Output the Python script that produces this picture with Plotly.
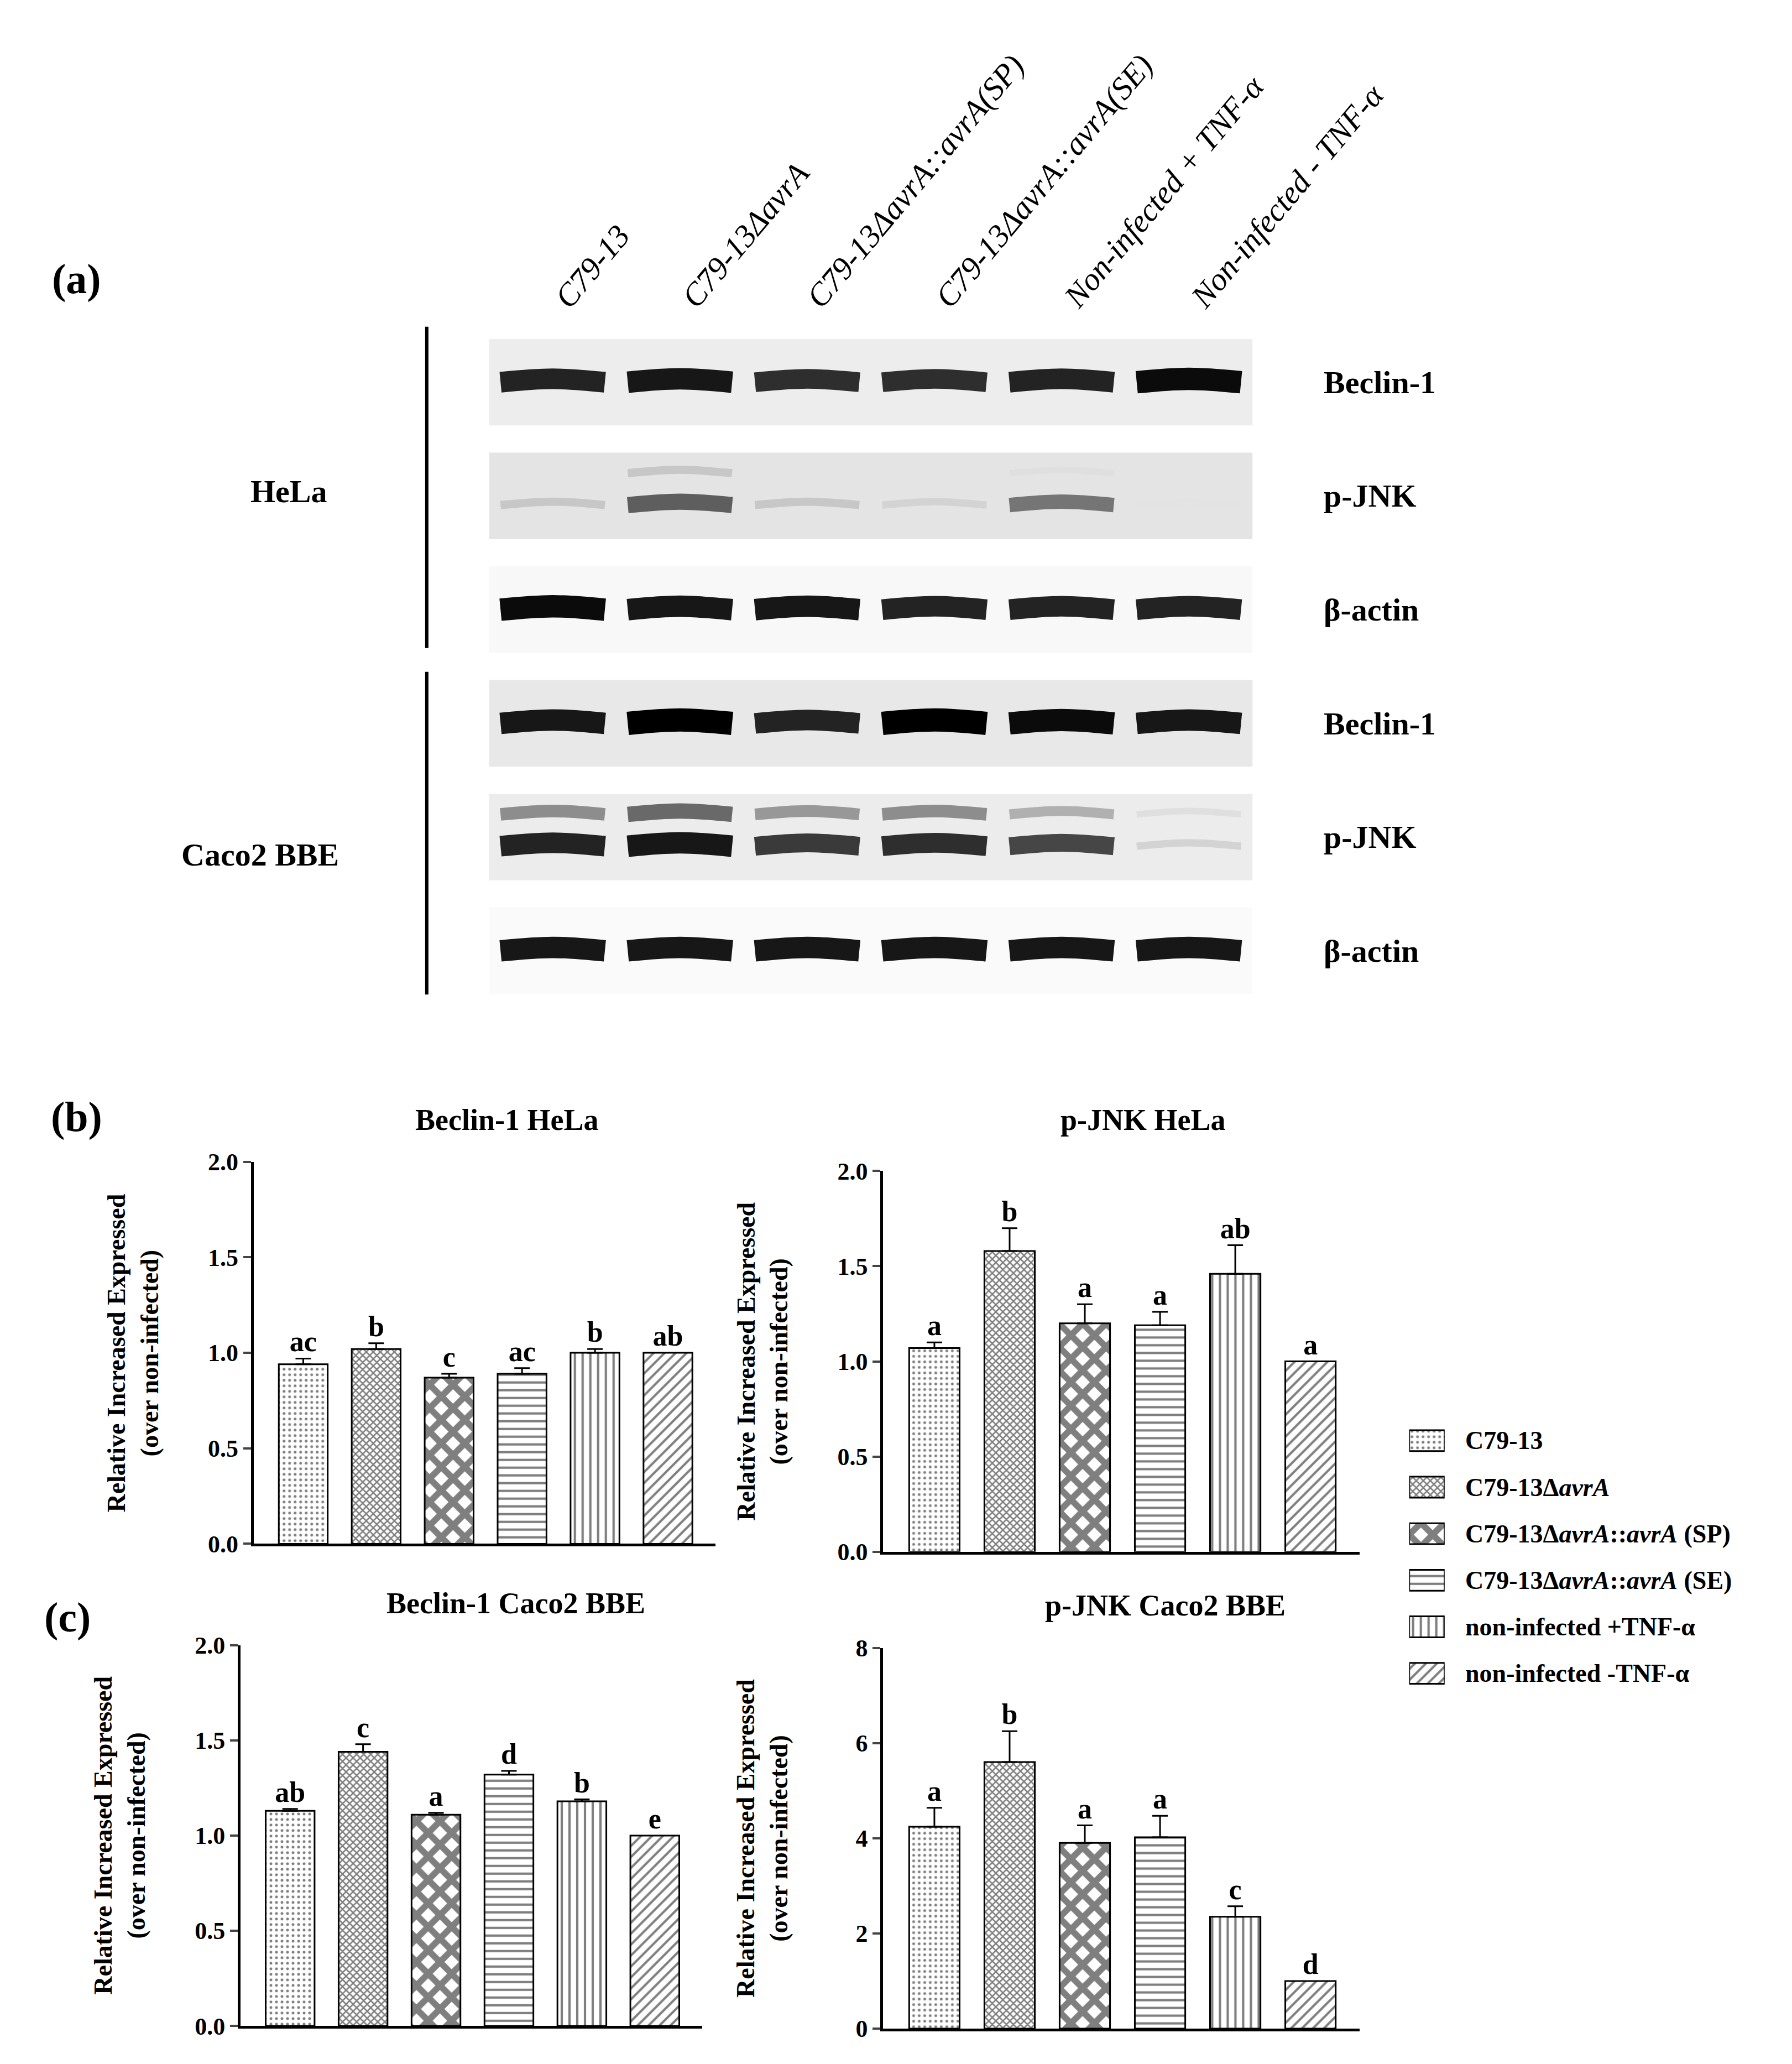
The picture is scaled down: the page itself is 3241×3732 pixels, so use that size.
import plotly.graph_objects as go

W, H = 3241, 3732
SX, SY = 1350.0, 1555.0  # reference layout units

groups = ["C79-13", "C79-13Δ<i>avrA</i>", "C79-13Δ<i>avrA</i>::<i>avrA</i> (SP)",
          "C79-13Δ<i>avrA</i>::<i>avrA</i> (SE)", "non-infected +TNF-α", "non-infected -TNF-α"]
lane_labels = ["C79-13", "C79-13Δ<i>avrA</i>", "C79-13Δ<i>avrA</i>::<i>avrA</i>(SP)",
               "C79-13Δ<i>avrA</i>::<i>avrA</i>(SE)", "Non-infected + TNF-α", "Non-infected - TNF-α"]
patterns = [".", "x", "x", "-", "|", "/"]
pat_size = [10, 9, 30, 14, 14, 14]
pat_solid = [0.2, 0.5, 0.62, 0.3, 0.3, 0.3]

beclin_hela = [0.94, 1.02, 0.87, 0.89, 1.00, 1.00]
beclin_hela_err = [0.03, 0.03, 0.02, 0.03, 0.02, 0.0]
beclin_hela_sig = ["ac", "b", "c", "ac", "b", "ab"]

pjnk_hela = [1.07, 1.58, 1.20, 1.19, 1.46, 1.00]
pjnk_hela_err = [0.03, 0.12, 0.10, 0.07, 0.15, 0.0]
pjnk_hela_sig = ["a", "b", "a", "a", "ab", "a"]

beclin_caco = [1.13, 1.44, 1.11, 1.32, 1.18, 1.00]
beclin_caco_err = [0.01, 0.04, 0.01, 0.02, 0.01, 0.0]
beclin_caco_sig = ["ab", "c", "a", "d", "b", "e"]

pjnk_caco = [4.24, 5.60, 3.90, 4.02, 2.35, 1.00]
pjnk_caco_err = [0.40, 0.65, 0.37, 0.45, 0.22, 0.0]
pjnk_caco_sig = ["a", "b", "a", "a", "c", "d"]

# western blot band intensities (0-1), per lane
blot_rows = ["Beclin-1", "p-JNK", "β-actin", "Beclin-1", "p-JNK", "β-actin"]
blot_bg = ["#ededed", "#e4e4e4", "#f8f8f8", "#e8e8e8", "#ececec", "#fafafa"]
band_main = [
    [0.85, 0.9, 0.8, 0.8, 0.85, 0.95],
    [0.15, 0.6, 0.15, 0.1, 0.5, 0.03],
    [0.95, 0.9, 0.9, 0.85, 0.85, 0.85],
    [0.9, 1.0, 0.85, 1.0, 0.95, 0.9],
    [0.85, 0.9, 0.75, 0.8, 0.7, 0.1],
    [0.9, 0.9, 0.9, 0.9, 0.9, 0.9],
]
band_upper = [None, [0.0, 0.15, 0.0, 0.0, 0.05, 0.0], None, None,
              [0.4, 0.55, 0.35, 0.4, 0.25, 0.05], None]

FONT = "Liberation Serif"
fig = go.Figure()


def fx(x):
    return x / 1.012 / SX


def fy(y):
    y = y - (13.5 - 0.0056 * y)
    return (SY - y) / SY


def px(x0, x1):
    return [fx(x0), fx(x1)]


def py(top, bottom):
    return [fy(bottom), fy(top)]


def bar_marker(i):
    return dict(color="white", line=dict(color="black", width=3),
                pattern=dict(shape=patterns[i], fgcolor="black", bgcolor="white",
                             size=pat_size[i], solidity=pat_solid[i]))


charts = [
    ("", beclin_hela, beclin_hela_err, beclin_hela_sig, px(190, 542), py(882, 1172), 2.0, 0.5, "Beclin-1 HeLa", 383, 850),
    ("2", pjnk_hela, pjnk_hela_err, pjnk_hela_sig, px(670, 1033), py(889, 1178), 2.0, 0.5, "p-JNK HeLa", 868, 850),
    ("3", beclin_caco, beclin_caco_err, beclin_caco_sig, px(180, 532), py(1249, 1538), 2.0, 0.5, "Beclin-1 Caco2 BBE", 390, 1217),
    ("4", pjnk_caco, pjnk_caco_err, pjnk_caco_sig, px(670, 1033), py(1251, 1540), 8, 2, "p-JNK Caco2 BBE", 885, 1219),
]

ann = []
for k, (ax, vals, errs, sig, xd, yd, ymax, dt, title, tx, ty) in enumerate(charts):
    for i in range(6):
        fig.add_trace(go.Bar(
            x=[i], y=[vals[i]], xaxis="x" + ax, yaxis="y" + ax, width=0.67,
            showlegend=False, marker=bar_marker(i),
            error_y=dict(type="data", array=[errs[i]], arrayminus=[0], symmetric=False,
                         color="black", thickness=3, width=14, visible=errs[i] > 0),
        ))
    fig.add_trace(go.Scatter(
        x=list(range(6)), y=[v + e for v, e in zip(vals, errs)], xaxis="x" + ax, yaxis="y" + ax,
        mode="text", text=sig, textposition="top center",
        textfont=dict(family=FONT, size=52, color="black", weight="bold"), showlegend=False, hoverinfo="skip"))
    fig.layout["xaxis" + ax] = dict(domain=xd, anchor="y" + ax, range=[-0.68, 5.65], showticklabels=False,
                                     ticks="", showgrid=False, zeroline=False, showline=True,
                                     linecolor="black", linewidth=5)
    fig.layout["yaxis" + ax] = dict(domain=yd, anchor="x" + ax, range=[0, ymax], dtick=dt,
                                     tickformat=".1f" if ymax == 2.0 else "d", ticks="outside",
                                     ticklen=14, tickwidth=4, showgrid=False, zeroline=False,
                                     showline=True, linecolor="black", linewidth=5,
                                     tickfont=dict(family=FONT, size=44, color="black", weight="bold"))
    ann.append(dict(text="<b>%s</b>" % title, x=fx(tx), y=fy(ty), xref="paper", yref="paper",
                    xanchor="center", yanchor="middle",
                    showarrow=False, font=dict(family=FONT, size=54, color="black")))
    ann.append(dict(text="<b>Relative Increased Expressed<br>(over non-infected)</b>",
                    x=xd[0] - 92 / 1.012 / SX, y=(yd[0] + yd[1]) / 2, xref="paper", yref="paper",
                    xanchor="center", yanchor="middle",
                    textangle=-90, showarrow=False, font=dict(family=FONT, size=46, color="black")))

# legend drawn as small horizontal pattern bars
for i in range(6):
    fig.add_trace(go.Bar(x=[1], y=[i], orientation="h", xaxis="x6", yaxis="y6", width=0.45,
                         marker=bar_marker(i), showlegend=False, hoverinfo="skip"))
    ann.append(dict(text="<b>%s</b>" % groups[i], x=fx(1113), y=i, xref="paper", yref="y6",
                    xanchor="left", yanchor="middle", showarrow=False,
                    font=dict(family=FONT, size=46, color="black")))
fig.layout["xaxis6"] = dict(domain=px(1071, 1098), anchor="y6", range=[0, 1], visible=False)
fig.layout["yaxis6"] = dict(domain=py(1076, 1288), anchor="x6", range=[5.5, -0.5], visible=False)

# blot panel
shapes = []
for r in range(6):
    shapes.append(dict(type="rect", xref="x5", yref="y5", x0=-0.52, x1=5.52, y0=r - 0.38, y1=r + 0.38,
                       fillcolor=blot_bg[r], line=dict(width=0), layer="below"))
    bands = [(band_main[r], 0.08 if r in (1, 4) else 0.0)]
    if band_upper[r]:
        bands.append((band_upper[r], -0.2))
    for inten, off in bands:
        for lane in range(6):
            v = inten[lane]
            if v <= 0:
                continue
            g = int(235 * (1 - v))
            fig.add_trace(go.Scatter(
                x=[lane - 0.41, lane, lane + 0.41], y=[r + off, r + off - 0.03, r + off],
                xaxis="x5", yaxis="y5", mode="lines", line=dict(color="rgb(%d,%d,%d)" % (g, g, g),
                                                              width=10 + 32 * v, shape="spline"),
                showlegend=False, hoverinfo="skip"))
    ann.append(dict(text="<b>%s</b>" % blot_rows[r], x=fx(1005), y=r, xref="paper", yref="y5",
                    xanchor="left", yanchor="middle", showarrow=False,
                    font=dict(family=FONT, size=58, color="black")))

lane_x = [418, 515, 610, 708, 806, 903]
for lane, lab in enumerate(lane_labels):
    ann.append(dict(text="<i>%s</i>" % lab, x=fx(lane_x[lane] - 5), y=fy(240),
                    xref="paper", yref="paper", xanchor="left", yanchor="bottom", textangle=-50,
                    showarrow=False, font=dict(family=FONT, size=58, color="black")))

fig.layout["xaxis5"] = dict(domain=px(369.5, 951.5), anchor="y5", range=[-0.5, 5.5], visible=False)
fig.layout["yaxis5"] = dict(domain=py(247, 765), anchor="x5", range=[5.5, -0.5], visible=False)

for y0, y1 in [(248, 492), (510, 755)]:
    shapes.append(dict(type="line", xref="paper", yref="paper", x0=fx(322), x1=fx(322),
                       y0=fy(y0), y1=fy(y1), line=dict(color="black", width=6)))

for t, x, y, s in [("HeLa", 217, 373, 58), ("Caco2 BBE", 195, 649, 58),
                   ("(a)", 55, 212, 76), ("(b)", 55, 848, 76), ("(c)", 48, 1228, 76)]:
    ann.append(dict(text="<b>%s</b>" % t, x=fx(x), y=fy(y), xref="paper", yref="paper",
                    xanchor="center", yanchor="middle",
                    showarrow=False, font=dict(family=FONT, size=s, color="black")))

fig.update_layout(
    width=W, height=H, margin=dict(l=0, r=0, t=0, b=0), paper_bgcolor="white", plot_bgcolor="white",
    barmode="overlay", annotations=ann, shapes=shapes, showlegend=False,
)
fig.write_html("out.html")
